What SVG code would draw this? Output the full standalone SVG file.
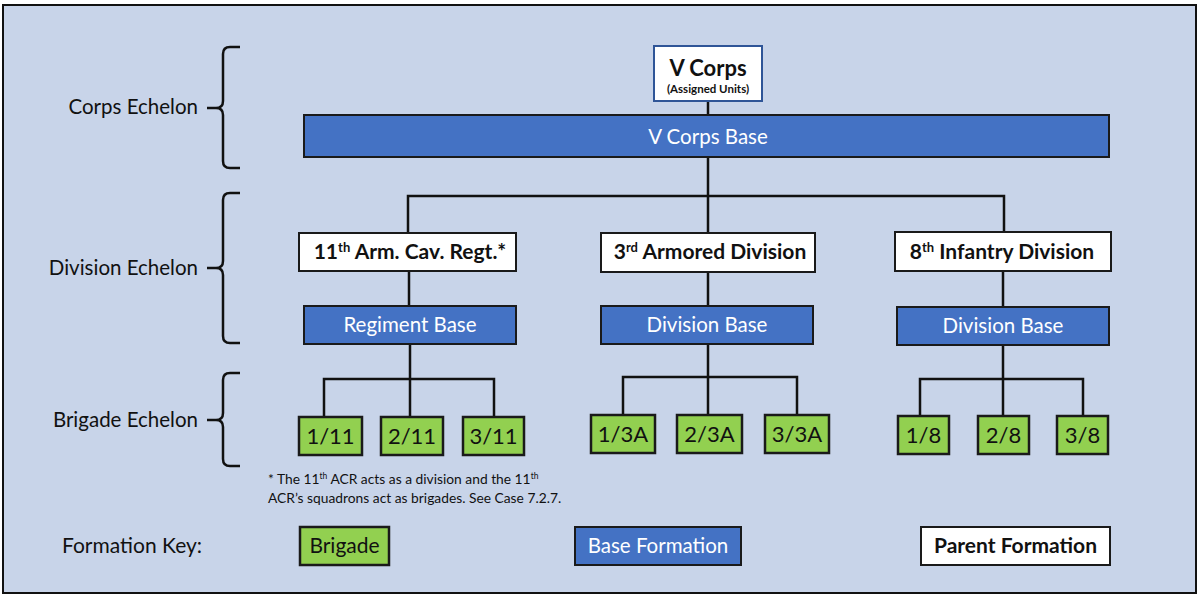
<svg xmlns="http://www.w3.org/2000/svg" width="1200" height="600" viewBox="0 0 1200 600">
<style>
text{font-family:Lato,"Open Sans","Liberation Sans",sans-serif;fill:#111}
.lbl{font-size:20.5px;text-anchor:end}
.base{fill:#4472c4;stroke:#1a1a1a;stroke-width:2}
.par{fill:#fff;stroke:#1a1a1a;stroke-width:2}
.brig{fill:#92d050;stroke:#1a1a1a;stroke-width:2.5}
.bt{font-size:20.5px;fill:#fff;text-anchor:middle}
.pt{font-size:21px;font-weight:bold;text-anchor:middle}
.gt{font-size:22px;text-anchor:middle}
.br{fill:none;stroke:#111;stroke-width:2.5}
.conn{fill:none;stroke:#111;stroke-width:2.5}
.sup{font-size:13px}
</style>
<rect x="3" y="5" width="1193" height="588" fill="#c8d4e9" stroke="#111" stroke-width="2"/>

<g id="labels">
<text class="lbl" x="198" y="114">Corps Echelon</text>
<text class="lbl" x="198" y="275">Division Echelon</text>
<text class="lbl" x="198" y="427">Brigade Echelon</text>
<path class="br" d="M240,47 H230 Q223,47 223,54 V101 Q223,108 216,108 H207 M216,108 Q223,108 223,115 V161 Q223,168 230,168 H240"/>
<path class="br" d="M240,193 H230 Q223,193 223,200 V261 Q223,268 216,268 H207 M216,268 Q223,268 223,275 V336 Q223,343 230,343 H240"/>
<path class="br" d="M240,373 H230 Q223,373 223,380 V413 Q223,420 216,420 H207 M216,420 Q223,420 223,427 V459 Q223,466 230,466 H240"/>
</g>

<g id="connectors">
<path class="conn" d="M708,101 V115"/>
<path class="conn" d="M708,157 V233 M408,233 V196 H1004 V232"/>
<path class="conn" d="M409,271 V306 M708,272 V306 M1003,271 V307"/>
<path class="conn" d="M410,344 V417 M324,417 V379 H494 V417"/>
<path class="conn" d="M708,344 V415 M623,415 V377 H797 V415"/>
<path class="conn" d="M1003,345 V416 M920,416 V379 H1083 V416"/>
</g>

<g id="vcorps">
<rect x="654" y="46" width="108" height="55" fill="#fff" stroke="#2f5597" stroke-width="2"/>
<text x="708" y="76" font-size="22" font-weight="bold" text-anchor="middle">V Corps</text>
<text x="708" y="93" font-size="11.5" font-weight="bold" text-anchor="middle">(Assigned Units)</text>
</g>
<g id="vcorps-base">
<rect class="base" x="304" y="115" width="805" height="42"/>
<text class="bt" x="708" y="144">V Corps Base</text>
</g>

<g id="acr11">
<rect class="par" x="299" y="233" width="217" height="38"/>
<text class="pt" x="410" y="259">11<tspan class="sup" dy="-7">th</tspan><tspan dy="7"> Arm. Cav. Regt.*</tspan></text>
</g>
<g id="ad3">
<rect class="par" x="601" y="233" width="214" height="39"/>
<text class="pt" x="710" y="259">3<tspan class="sup" dy="-7">rd</tspan><tspan dy="7"> Armored Division</tspan></text>
</g>
<g id="id8">
<rect class="par" x="895" y="232" width="216" height="39"/>
<text class="pt" x="1002" y="259">8<tspan class="sup" dy="-7">th</tspan><tspan dy="7"> Infantry Division</tspan></text>
</g>

<g id="acr11-base">
<rect class="base" x="304" y="306" width="212" height="38"/>
<text class="bt" x="410" y="332">Regiment Base</text>
</g>
<g id="ad3-base">
<rect class="base" x="601" y="306" width="212" height="38"/>
<text class="bt" x="707" y="332">Division Base</text>
</g>
<g id="id8-base">
<rect class="base" x="897" y="307" width="212" height="38"/>
<text class="bt" x="1003" y="333">Division Base</text>
</g>

<g id="b1-11"><rect class="brig" x="299" y="417" width="63" height="38"/><text class="gt" x="330.5" y="444">1/11</text></g>
<g id="b2-11"><rect class="brig" x="381" y="417" width="62" height="38"/><text class="gt" x="412" y="444">2/11</text></g>
<g id="b3-11"><rect class="brig" x="463" y="417" width="61" height="38"/><text class="gt" x="493.5" y="444">3/11</text></g>

<g id="b1-3a"><rect class="brig" x="591" y="415" width="64" height="38"/><text class="gt" x="623" y="442">1/3A</text></g>
<g id="b2-3a"><rect class="brig" x="677" y="415" width="65" height="38"/><text class="gt" x="709.5" y="442">2/3A</text></g>
<g id="b3-3a"><rect class="brig" x="765" y="415" width="64" height="38"/><text class="gt" x="797" y="442">3/3A</text></g>

<g id="b1-8"><rect class="brig" x="898" y="416" width="51" height="38"/><text class="gt" x="923.5" y="443">1/8</text></g>
<g id="b2-8"><rect class="brig" x="978" y="416" width="51" height="38"/><text class="gt" x="1003.5" y="443">2/8</text></g>
<g id="b3-8"><rect class="brig" x="1057" y="416" width="51" height="38"/><text class="gt" x="1082.5" y="443">3/8</text></g>

<g id="footnote">
<text x="268" y="484" font-size="13.8">* The 11<tspan font-size="8.5" dy="-5">th</tspan><tspan dy="5"> ACR acts as a division and the 11</tspan><tspan font-size="8.5" dy="-5">th</tspan></text>
<text x="268" y="503" font-size="13.8">ACR’s squadrons act as brigades. See Case 7.2.7.</text>
</g>

<g id="key">
<text x="62" y="553" font-size="21">Formation Key:</text>
<g id="key-brigade"><rect class="brig" x="300" y="527" width="89" height="38"/><text x="344.5" y="553" font-size="21" text-anchor="middle">Brigade</text></g>
<g id="key-base"><rect class="base" x="575" y="527" width="166" height="38"/><text class="bt" x="658" y="553">Base Formation</text></g>
<g id="key-parent"><rect class="par" x="921" y="527" width="189" height="38"/><text class="pt" x="1015.5" y="553">Parent Formation</text></g>
</g>
</svg>
